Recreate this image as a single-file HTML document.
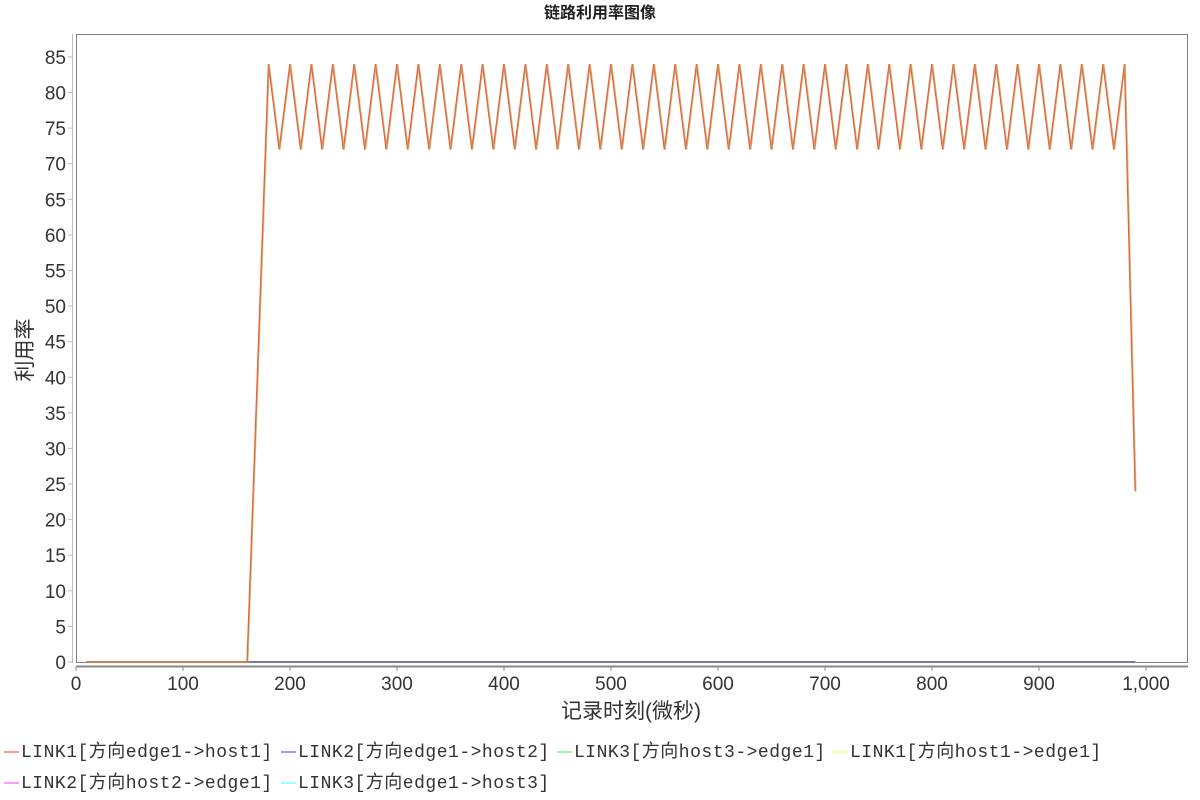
<!DOCTYPE html>
<html><head><meta charset="utf-8"><style>
body{margin:0;background:#fff;width:1200px;height:800px;overflow:hidden;font-family:"Liberation Sans","Noto Sans CJK SC",sans-serif}
.lg{position:absolute;font:18px "Liberation Mono","Noto Sans CJK SC",monospace;color:#333;white-space:nowrap;letter-spacing:0.5px}
.sw{display:inline-block;width:15px;height:2px;vertical-align:middle;margin-right:2px}
</style></head><body>
<svg id="c" width="1200" height="800" style="position:absolute;left:0;top:0">
<text x="600" y="18" text-anchor="middle" font-size="16" font-weight="bold" fill="#222" font-family="Liberation Sans,Noto Sans CJK SC,sans-serif">链路利用率图像</text>
<rect x="76.5" y="34.5" width="1111" height="628" fill="#fff" stroke="#808080"/>
<line x1="72.5" y1="34" x2="72.5" y2="663" stroke="#bbb"/>
<line x1="76" y1="666.5" x2="1188" y2="666.5" stroke="#888" stroke-width="2"/>
<g id="yt"></g><g id="xt"></g><g id="series"></g>
<text x="631" y="718" text-anchor="middle" font-size="21" fill="#333" font-family="Liberation Sans,Noto Sans CJK SC,sans-serif">记录时刻(微秒)</text>
<text transform="translate(32,350) rotate(-90)" text-anchor="middle" font-size="21" fill="#333" font-family="Liberation Sans,Noto Sans CJK SC,sans-serif">利用率</text>
</svg>
<div class="lg" style="left:4px;top:737px"><span class="sw" style="background:#ff9a9a"></span>LINK1[方向edge1-&gt;host1]</div>
<div class="lg" style="left:281px;top:737px"><span class="sw" style="background:#9a9aff"></span>LINK2[方向edge1-&gt;host2]</div>
<div class="lg" style="left:557px;top:737px"><span class="sw" style="background:#9aff9a"></span>LINK3[方向host3-&gt;edge1]</div>
<div class="lg" style="left:833px;top:737px"><span class="sw" style="background:#ffff9a"></span>LINK1[方向host1-&gt;edge1]</div>
<div class="lg" style="left:4px;top:768px"><span class="sw" style="background:#ff9aff"></span>LINK2[方向host2-&gt;edge1]</div>
<div class="lg" style="left:281px;top:768px"><span class="sw" style="background:#9affff"></span>LINK3[方向edge1-&gt;host3]</div>
<script>
const times=[10,20,30,40,50,60,70,80,90,100,110,120,130,140,150,160,170,180,190,200,210,220,230,240,250,260,270,280,290,300,310,320,330,340,350,360,370,380,390,400,410,420,430,440,450,460,470,480,490,500,510,520,530,540,550,560,570,580,590,600,610,620,630,640,650,660,670,680,690,700,710,720,730,740,750,760,770,780,790,800,810,820,830,840,850,860,870,880,890,900,910,920,930,940,950,960,970,980,990];
const link1Out=[0,0,0,0,0,0,0,0,0,0,0,0,0,0,0,0,42,84,72,84,72,84,72,84,72,84,72,84,72,84,72,84,72,84,72,84,72,84,72,84,72,84,72,84,72,84,72,84,72,84,72,84,72,84,72,84,72,84,72,84,72,84,72,84,72,84,72,84,72,84,72,84,72,84,72,84,72,84,72,84,72,84,72,84,72,84,72,84,72,84,72,84,72,84,72,84,72,84,24];
const link3In=link1Out.slice();
const zeroSeries=[0,0,0,0,0,0,0,0,0,0,0,0,0,0,0,0,0,0,0,0,0,0,0,0,0,0,0,0,0,0,0,0,0,0,0,0,0,0,0,0,0,0,0,0,0,0,0,0,0,0,0,0,0,0,0,0,0,0,0,0,0,0,0,0,0,0,0,0,0,0,0,0,0,0,0,0,0,0,0,0,0,0,0,0,0,0,0,0,0,0,0,0,0,0,0,0,0,0,0];
const yTicks=[0,5,10,15,20,25,30,35,40,45,50,55,60,65,70,75,80,85];
const xTicks=[0,100,200,300,400,500,600,700,800,900,1000];
const xTickLabels=["0","100","200","300","400","500","600","700","800","900","1,000"];
const NS="http://www.w3.org/2000/svg";
const X=v=>76+v*1.07, Y=v=>662-v*7.118;
function mk(t,a,p){const e=document.createElementNS(NS,t);for(const k in a)e.setAttribute(k,a[k]);p.appendChild(e);return e;}
const yt=document.getElementById('yt'),xt=document.getElementById('xt'),sg=document.getElementById('series');
yTicks.forEach(v=>{
 const l=mk('line',{x1:68,x2:72,y1:Y(v),y2:Y(v),stroke:'#bbb'},yt);
 
 
 const t=mk('text',{x:66,y:Y(v)+7,'text-anchor':'end','font-size':19,fill:'#333'},yt);
 
 
 t.textContent=v;
});
xTicks.forEach((v,i)=>{
 const l=mk('line',{x1:X(v),x2:X(v),y1:667,y2:671,stroke:'#888'},xt);
 
 
 const t=mk('text',{x:X(v),y:690,'text-anchor':'middle','font-size':19,fill:'#333'},xt);
 
 
 t.textContent=xTickLabels[i];
});
function pts(arr){return arr.map((v,i)=>X(times[i]).toFixed(1)+','+Y(v).toFixed(1)).join(' ');}
const z=mk('polyline',{points:pts(zeroSeries),fill:'none',stroke:'#7a7aa0','stroke-width':2},sg);


const r=mk('polyline',{points:pts(link1Out),fill:'none',stroke:'#f05a40','stroke-width':1.6},sg);


const g=mk('polyline',{points:pts(link3In),fill:'none',stroke:'#b8b860','stroke-width':1.2,'stroke-opacity':0.6,transform:'translate(0.8,0)'},sg);


</script>
</body></html>
